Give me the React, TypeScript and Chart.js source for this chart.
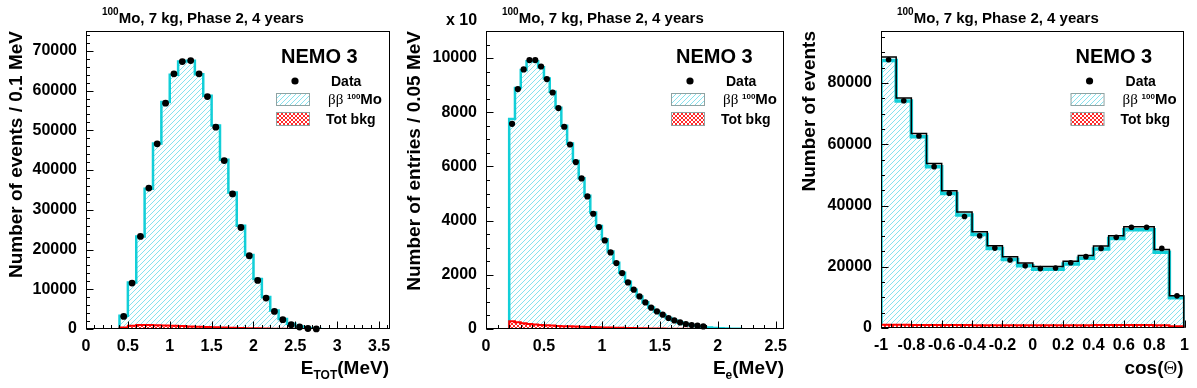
import React, { useEffect, useRef } from "react";
import { Chart, registerables } from "chart.js";

Chart.register(...registerables);

const SANS = "'Liberation Sans', Arial, Helvetica, sans-serif";
const SERIF = "'Liberation Serif', 'Times New Roman', serif";

// ---------- Panel 1 : total energy (bins of 0.1 MeV) ----------
const eTotBinLow = [0.4, 0.5, 0.6, 0.7, 0.8, 0.9, 1.0, 1.1, 1.2, 1.3, 1.4, 1.5, 1.6, 1.7, 1.8, 1.9, 2.0, 2.1, 2.2, 2.3, 2.4, 2.5, 2.6, 2.7];
const eTotData = [3170, 11560, 23290, 35460, 46600, 56840, 64210, 67300, 67560, 64210, 58500, 50800, 42400, 34000, 25550, 18430, 12230, 7790, 4430, 2340, 1080, 500, 130, 30];
const eTotMC = [3340, 11720, 23300, 35300, 46700, 57100, 64000, 67300, 67500, 64100, 58700, 51200, 42600, 34350, 25980, 18600, 12570, 8050, 4680, 2510, 1330, 650, 250, 80];
const eTotBkg = [400, 800, 1000, 1000, 950, 900, 820, 750, 660, 580, 500, 420, 350, 300, 250, 200, 160, 120, 90, 60, 35, 15, 5, 0];
const eTotXTicks = [0, 0.5, 1, 1.5, 2, 2.5, 3, 3.5];
const eTotYTicks = [0, 10000, 20000, 30000, 40000, 50000, 60000, 70000];

// ---------- Panel 2 : single electron energy (bins of 0.05 MeV) ----------
const eeBinLow = [0.2, 0.25, 0.3, 0.35, 0.4, 0.45, 0.5, 0.55, 0.6, 0.65, 0.7, 0.75, 0.8, 0.85, 0.9, 0.95, 1.0, 1.05, 1.1, 1.15, 1.2, 1.25, 1.3, 1.35, 1.4, 1.45, 1.5, 1.55, 1.6, 1.65, 1.7, 1.75, 1.8, 1.85, 1.9, 1.95, 2.0, 2.05, 2.1, 2.15];
const eeData = [7575, 8856, 9580, 9925, 9925, 9690, 9225, 8730, 8155, 7465, 6810, 6160, 5557, 4893, 4254, 3763, 3270, 2827, 2435, 2066, 1720, 1450, 1203, 982, 786, 650, 528, 406, 317, 244, 184, 148, 122, 96];
const eeMC = [7750, 8900, 9560, 9880, 9880, 9660, 9250, 8760, 8170, 7500, 6850, 6200, 5560, 4920, 4300, 3800, 3310, 2860, 2450, 2080, 1740, 1450, 1200, 985, 795, 645, 515, 405, 315, 240, 182, 138, 104, 78, 57, 40, 27, 17, 10, 5];
const eeBkg = [290, 245, 210, 185, 165, 150, 135, 125, 115, 105, 98, 90, 83, 76, 70, 63, 57, 52, 47, 42, 37, 33, 29, 25, 22, 19, 16, 13, 11, 9, 7, 5, 4, 3, 2, 1, 0, 0, 0, 0];
const eeXTicks = [0, 0.5, 1, 1.5, 2, 2.5];
const eeYTicks = [0, 2000, 4000, 6000, 8000, 10000];

// ---------- Panel 3 : angular distribution (bins of 0.1) ----------
const cosBinLow = [-1, -0.9, -0.8, -0.7, -0.6, -0.5, -0.4, -0.3, -0.2, -0.1, 0, 0.1, 0.2, 0.3, 0.4, 0.5, 0.6, 0.7, 0.8, 0.9];
const cosData = [87600, 74200, 62700, 52700, 44000, 36400, 30100, 26100, 22200, 20300, 19400, 19600, 21300, 23300, 26000, 29600, 32900, 32900, 26000, 10500];
const cosMC = [87400, 74100, 62500, 52700, 43900, 36900, 30500, 26000, 22400, 20300, 19200, 19200, 20900, 22800, 25800, 29200, 32100, 32100, 24700, 9900];
const cosBkg = [1100, 1050, 1000, 1000, 950, 950, 900, 900, 900, 900, 900, 900, 900, 900, 950, 950, 1000, 1000, 900, 600];
const cosXTicks = [-1, -0.8, -0.6, -0.4, -0.2, 0, 0.2, 0.4, 0.6, 0.8, 1];
const cosYTicks = [0, 20000, 40000, 60000, 80000];

type Seg = { t: string; font: string; dy: number };

type PanelCfg = {
  id: string;
  left: number;
  canvasW: number;
  padRight: number;
  xAxisH: number;
  xMin: number;
  xMax: number;
  yMax: number;
  xTicks: number[];
  yTicks: number[];
  xMinorStart: number;
  xMinor: number;
  yMinor: number;
  binLow: number[];
  binW: number;
  data: number[];
  mc: number[];
  bkg: number[];
  showTotal: boolean;
  mcLineW: number;
  pointR: number;
  yTitle: string;
  yTitleX: number;
  xTitle: Seg[];
  exponent?: string;
};

const B = (px: number) => `bold ${px}px ${SANS}`;

const panels: PanelCfg[] = [
  {
    id: "etot", left: 0, canvasW: 400, padRight: 10, xAxisH: 59,
    xMin: 0, xMax: 3.63, yMax: 75000,
    xTicks: eTotXTicks, yTicks: eTotYTicks, xMinorStart: 0, xMinor: 0.1, yMinor: 2000,
    binLow: eTotBinLow, binW: 0.1, data: eTotData, mc: eTotMC, bkg: eTotBkg,
    showTotal: false, mcLineW: 2.5, pointR: 3.4,
    yTitle: "Number of events / 0.1 MeV", yTitleX: 22,
    xTitle: [{ t: "E", font: B(19), dy: 0 }, { t: "TOT", font: B(12), dy: 5 }, { t: "(MeV)", font: B(19), dy: 0 }],
  },
  {
    id: "ee", left: 400, canvasW: 395, padRight: 5, xAxisH: 59,
    xMin: 0, xMax: 2.58, yMax: 11000,
    xTicks: eeXTicks, yTicks: eeYTicks, xMinorStart: 0, xMinor: 0.1, yMinor: 500,
    binLow: eeBinLow, binW: 0.05, data: eeData, mc: eeMC, bkg: eeBkg,
    showTotal: false, mcLineW: 2.5, pointR: 3.1,
    yTitle: "Number of entries / 0.05 MeV", yTitleX: 20,
    xTitle: [{ t: "E", font: B(19), dy: 0 }, { t: "e", font: B(12), dy: 5 }, { t: "(MeV)", font: B(19), dy: 0 }],
    exponent: "x 10",
  },
  {
    id: "cos", left: 795, canvasW: 402, padRight: 12, xAxisH: 60,
    xMin: -1, xMax: 1, yMax: 97000,
    xTicks: cosXTicks, yTicks: cosYTicks, xMinorStart: -1, xMinor: 0.2 / 3, yMinor: 5000,
    binLow: cosBinLow, binW: 0.1, data: cosData, mc: cosMC, bkg: cosBkg,
    showTotal: true, mcLineW: 3.5, pointR: 2.8,
    yTitle: "Number of events", yTitleX: 20,
    xTitle: [{ t: "cos(", font: B(19), dy: 0 }, { t: "\u0398", font: `19px ${SERIF}`, dy: 0 }, { t: ")", font: B(19), dy: 0 }],
  },
];

function stepPoints(lows: number[], width: number, vals: number[]) {
  const pts: { x: number; y: number }[] = [{ x: lows[0], y: 0 }];
  lows.forEach((lo, i) => pts.push({ x: lo, y: vals[i] ?? 0 }));
  const end = lows[lows.length - 1] + width;
  pts.push({ x: end, y: vals[lows.length - 1] ?? 0 });
  pts.push({ x: end, y: 0 });
  return pts;
}

function makePattern(ctx: CanvasRenderingContext2D, color: string, size: number, cross: boolean, bg: string | null) {
  const c = document.createElement("canvas");
  c.width = size;
  c.height = size;
  const g = c.getContext("2d")!;
  if (bg) {
    g.fillStyle = bg;
    g.fillRect(0, 0, size, size);
  }
  g.strokeStyle = color;
  g.lineWidth = 1;
  g.beginPath();
  g.moveTo(0, size); g.lineTo(size, 0);
  g.moveTo(-1, 1); g.lineTo(1, -1);
  g.moveTo(size - 1, size + 1); g.lineTo(size + 1, size - 1);
  if (cross) {
    g.moveTo(0, 0); g.lineTo(size, size);
    g.moveTo(-1, size - 1); g.lineTo(1, size + 1);
    g.moveTo(size - 1, -1); g.lineTo(size + 1, 1);
  }
  g.stroke();
  return ctx.createPattern(c, "repeat")!;
}

function drawSegs(ctx: CanvasRenderingContext2D, x: number, y: number, segs: Seg[], align: "left" | "right") {
  ctx.textAlign = "left";
  ctx.textBaseline = "alphabetic";
  let total = 0;
  for (const s of segs) {
    ctx.font = s.font;
    total += ctx.measureText(s.t).width;
  }
  let cx = align === "right" ? x - total : x;
  for (const s of segs) {
    ctx.font = s.font;
    ctx.fillText(s.t, cx, y + s.dy);
    cx += ctx.measureText(s.t).width;
  }
}

const fmt = (v: number) => String(Number(Number(v).toFixed(3)));

function Panel({ cfg }: { cfg: PanelCfg }) {
  const ref = useRef<HTMLCanvasElement>(null);
  useEffect(() => {
    const canvas = ref.current!;
    const ctx = canvas.getContext("2d")!;
    const cyanPat = makePattern(ctx, "#86e2ee", 5, false, null);
    const redPat = makePattern(ctx, "#ff2a2a", 4, true, "#ffffff");

    const decor = {
      id: "decor-" + cfg.id,
      afterDraw(chart: any) {
        const c: CanvasRenderingContext2D = chart.ctx;
        const a = chart.chartArea;
        const xs = chart.scales.x;
        const ys = chart.scales.y;
        c.save();
        c.strokeStyle = "#000";
        c.fillStyle = "#000";
        c.lineWidth = 1;
        const L = Math.floor(a.left) + 0.5;
        const R = Math.floor(a.right) - 0.5;
        const T = Math.floor(a.top) + 0.5;
        const Bt = Math.floor(a.bottom) - 0.5;
        c.strokeRect(L, T, R - L, Bt - T);

        c.beginPath();
        // x ticks (inside, upwards)
        for (let i = 0; ; i++) {
          const v = cfg.xMinorStart + i * cfg.xMinor;
          if (v > cfg.xMax + 1e-9) break;
          const px = Math.round(xs.getPixelForValue(v)) + 0.5;
          c.moveTo(px, Bt); c.lineTo(px, Bt - 3.5);
        }
        for (const v of cfg.xTicks) {
          const px = Math.round(xs.getPixelForValue(v)) + 0.5;
          c.moveTo(px, Bt); c.lineTo(px, Bt - 7);
        }
        // y ticks (inside, rightwards)
        for (let i = 0; ; i++) {
          const v = i * cfg.yMinor;
          if (v > cfg.yMax + 1e-9) break;
          const py = Math.round(ys.getPixelForValue(v)) + 0.5;
          c.moveTo(L, py); c.lineTo(L + 3.5, py);
        }
        for (const v of cfg.yTicks) {
          const py = Math.round(ys.getPixelForValue(v)) + 0.5;
          c.moveTo(L, py); c.lineTo(L + 7, py);
        }
        c.stroke();

        // title
        drawSegs(c, a.left + 16, 23, [
          { t: "100", font: B(10), dy: -8 },
          { t: "Mo, 7 kg, Phase 2, 4 years", font: B(15), dy: 0 },
        ], "left");

        // NEMO 3 + legend
        const r = a.right;
        drawSegs(c, r - 109, 63, [{ t: "NEMO 3", font: B(20), dy: 0 }], "left");
        c.beginPath();
        c.arc(r - 95, 81, 3.6, 0, Math.PI * 2);
        c.fill();
        drawSegs(c, r - 59, 86, [{ t: "Data", font: B(14), dy: 0 }], "left");
        c.fillStyle = cyanPat;
        c.fillRect(r - 114, 93, 33, 12);
        c.strokeStyle = "#8fa3a3";
        c.strokeRect(r - 113.5, 93.5, 33, 12);
        c.fillStyle = redPat;
        c.fillRect(r - 114, 112, 33, 13);
        c.strokeRect(r - 113.5, 112.5, 33, 13);
        c.fillStyle = "#000";
        drawSegs(c, r - 62, 104, [
          { t: "\u03b2\u03b2 ", font: `15px ${SERIF}`, dy: 0 },
          { t: "100", font: B(8), dy: -5 },
          { t: "Mo", font: B(15), dy: 0 },
        ], "left");
        drawSegs(c, r - 64, 124, [{ t: "Tot bkg", font: B(14), dy: 0 }], "left");

        // x-axis title
        drawSegs(c, a.right - 1, 374, cfg.xTitle, "right");

        // exponent label
        if (cfg.exponent) drawSegs(c, 46, 25, [{ t: cfg.exponent, font: B(16), dy: 0 }], "left");

        // y-axis title (rotated, right aligned to the top)
        c.save();
        c.translate(cfg.yTitleX, 31);
        c.rotate(-Math.PI / 2);
        c.font = B(19);
        c.textAlign = "right";
        c.textBaseline = "alphabetic";
        c.fillText(cfg.yTitle, 0, 0);
        c.restore();

        c.restore();
      },
    };

    const total = cfg.mc.map((v, i) => v + (cfg.bkg[i] ?? 0));
    const datasets: any[] = [
      {
        label: "Data",
        data: cfg.data.map((v, i) => ({ x: cfg.binLow[i] + cfg.binW / 2, y: v })),
        showLine: false,
        pointRadius: cfg.pointR,
        pointBackgroundColor: "#000",
        pointBorderWidth: 0,
        order: 0,
        clip: 8,
      },
      {
        label: "Tot bkg",
        data: stepPoints(cfg.binLow, cfg.binW, cfg.bkg),
        stepped: "before",
        borderColor: "#ff0000",
        borderWidth: 2,
        backgroundColor: redPat,
        fill: "origin",
        pointRadius: 0,
        order: 2,
      },
      {
        label: "bb 100Mo",
        data: stepPoints(cfg.binLow, cfg.binW, cfg.mc),
        stepped: "before",
        borderColor: "#12cfd8",
        borderWidth: cfg.mcLineW,
        backgroundColor: cyanPat,
        fill: "origin",
        pointRadius: 0,
        order: 3,
      },
    ];
    if (cfg.showTotal) {
      datasets.push({
        label: "Total",
        data: stepPoints(cfg.binLow, cfg.binW, total),
        stepped: "before",
        borderColor: "#000",
        borderWidth: 1.5,
        fill: false,
        pointRadius: 0,
        order: 1,
      });
    }

    const tickFont = { family: SANS, size: 16, weight: "bold" as const };
    const chart = new Chart(ctx, {
      type: "line",
      data: { datasets },
      options: {
        responsive: false,
        maintainAspectRatio: false,
        animation: false,
        devicePixelRatio: 1,
        events: [],
        layout: { padding: { top: 31, right: cfg.padRight, left: 0, bottom: 0 } },
        plugins: { legend: { display: false }, tooltip: { enabled: false }, title: { display: false } },
        scales: {
          x: {
            type: "linear",
            min: cfg.xMin,
            max: cfg.xMax,
            grid: { display: false, drawTicks: false },
            border: { display: false },
            ticks: {
              font: tickFont,
              color: "#000",
              padding: 8,
              autoSkip: false,
              maxRotation: 0,
              minRotation: 0,
              callback: (v: any) => fmt(v),
            },
            afterBuildTicks: (s: any) => {
              s.ticks = cfg.xTicks.map((v) => ({ value: v }));
            },
            afterFit: (s: any) => {
              s.height = cfg.xAxisH;
            },
          },
          y: {
            type: "linear",
            min: 0,
            max: cfg.yMax,
            grid: { display: false, drawTicks: false },
            border: { display: false },
            ticks: {
              font: tickFont,
              color: "#000",
              padding: 9,
              callback: (v: any) => fmt(v),
            },
            afterBuildTicks: (s: any) => {
              s.ticks = cfg.yTicks.map((v) => ({ value: v }));
            },
            afterFit: (s: any) => {
              s.width = 86;
            },
          },
        },
      },
      plugins: [decor],
    } as any);
    return () => chart.destroy();
  }, []);
  return (
    <canvas
      ref={ref}
      width={cfg.canvasW}
      height={388}
      style={{ position: "absolute", left: cfg.left, top: 0, width: cfg.canvasW, height: 388, display: "block" }}
    />
  );
}

export default function App() {
  return (
    <div style={{ position: "fixed", left: 0, top: 0, width: 1197, height: 388, background: "#fff", overflow: "hidden" }}>
      {panels.map((p) => (
        <Panel key={p.id} cfg={p} />
      ))}
    </div>
  );
}
